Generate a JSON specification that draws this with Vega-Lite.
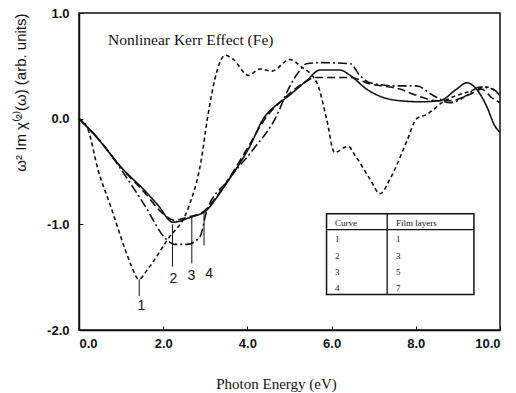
{
  "$schema": "https://vega.github.io/schema/vega-lite/v6.json",
  "width": 421,
  "height": 317,
  "autosize": "none",
  "padding": {"left": 79, "top": 13, "right": 16, "bottom": 63},
  "background": "white",
  "config": {
    "view": {"stroke": "#111", "strokeWidth": 1.5},
    "axis": {"domainColor": "#111", "domainWidth": 1.5, "tickColor": "#111", "grid": false,
             "labelFont": "Liberation Sans", "labelFontWeight": "bold", "labelFontSize": 13, "labelColor": "#111",
             "titleColor": "#111", "titleFontWeight": "normal"}
  },
  "datasets": {
    "curves": [
      {"curve": "1", "x": 0, "y": 0}, {"curve": "1", "x": 0.21, "y": -0.1}, {"curve": "1", "x": 0.45, "y": -0.48}, {"curve": "1", "x": 0.77, "y": -0.85},
      {"curve": "1", "x": 1.09, "y": -1.23}, {"curve": "1", "x": 1.25, "y": -1.4}, {"curve": "1", "x": 1.42, "y": -1.52}, {"curve": "1", "x": 1.64, "y": -1.42},
      {"curve": "1", "x": 2.11, "y": -1.14}, {"curve": "1", "x": 2.59, "y": -0.85}, {"curve": "1", "x": 2.9, "y": -0.4}, {"curve": "1", "x": 3.05, "y": 0.0},
      {"curve": "1", "x": 3.27, "y": 0.44}, {"curve": "1", "x": 3.47, "y": 0.6}, {"curve": "1", "x": 3.67, "y": 0.56}, {"curve": "1", "x": 4.02, "y": 0.41},
      {"curve": "1", "x": 4.3, "y": 0.47}, {"curve": "1", "x": 4.58, "y": 0.45}, {"curve": "1", "x": 5.01, "y": 0.56}, {"curve": "1", "x": 5.25, "y": 0.5},
      {"curve": "1", "x": 5.65, "y": 0.34}, {"curve": "1", "x": 5.88, "y": 0.0}, {"curve": "1", "x": 6.07, "y": -0.32}, {"curve": "1", "x": 6.39, "y": -0.26},
      {"curve": "1", "x": 6.56, "y": -0.35}, {"curve": "1", "x": 6.91, "y": -0.57}, {"curve": "1", "x": 7.15, "y": -0.71}, {"curve": "1", "x": 7.39, "y": -0.57},
      {"curve": "1", "x": 7.78, "y": -0.22}, {"curve": "1", "x": 8.02, "y": 0.0}, {"curve": "1", "x": 8.26, "y": 0.04}, {"curve": "1", "x": 8.65, "y": 0.16},
      {"curve": "1", "x": 9.21, "y": 0.25}, {"curve": "1", "x": 9.68, "y": 0.3}, {"curve": "1", "x": 10.0, "y": 0.22},

      {"curve": "2", "x": 0, "y": 0}, {"curve": "2", "x": 0.45, "y": -0.19}, {"curve": "2", "x": 1.0, "y": -0.46}, {"curve": "2", "x": 1.56, "y": -0.68},
      {"curve": "2", "x": 1.88, "y": -0.82}, {"curve": "2", "x": 2.23, "y": -0.98}, {"curve": "2", "x": 2.67, "y": -0.93}, {"curve": "2", "x": 3.02, "y": -0.87},
      {"curve": "2", "x": 3.3, "y": -0.73}, {"curve": "2", "x": 3.54, "y": -0.59}, {"curve": "2", "x": 4.06, "y": -0.26}, {"curve": "2", "x": 4.38, "y": 0.0},
      {"curve": "2", "x": 4.66, "y": 0.12}, {"curve": "2", "x": 4.93, "y": 0.2}, {"curve": "2", "x": 5.41, "y": 0.36}, {"curve": "2", "x": 5.72, "y": 0.46},
      {"curve": "2", "x": 6.2, "y": 0.46}, {"curve": "2", "x": 6.44, "y": 0.41}, {"curve": "2", "x": 6.83, "y": 0.28}, {"curve": "2", "x": 7.23, "y": 0.2},
      {"curve": "2", "x": 7.62, "y": 0.17}, {"curve": "2", "x": 8.1, "y": 0.16}, {"curve": "2", "x": 8.57, "y": 0.17}, {"curve": "2", "x": 8.97, "y": 0.28},
      {"curve": "2", "x": 9.21, "y": 0.34}, {"curve": "2", "x": 9.44, "y": 0.28}, {"curve": "2", "x": 9.68, "y": 0.12}, {"curve": "2", "x": 9.88, "y": -0.07},
      {"curve": "2", "x": 10.0, "y": -0.13},

      {"curve": "3", "x": 0, "y": 0}, {"curve": "3", "x": 0.5, "y": -0.21}, {"curve": "3", "x": 1.0, "y": -0.48}, {"curve": "3", "x": 1.56, "y": -0.82},
      {"curve": "3", "x": 2.07, "y": -1.14}, {"curve": "3", "x": 2.27, "y": -1.19}, {"curve": "3", "x": 2.56, "y": -1.19}, {"curve": "3", "x": 2.87, "y": -1.12},
      {"curve": "3", "x": 3.03, "y": -0.88}, {"curve": "3", "x": 3.5, "y": -0.6}, {"curve": "3", "x": 4.14, "y": -0.29}, {"curve": "3", "x": 4.66, "y": 0.0},
      {"curve": "3", "x": 5.0, "y": 0.3}, {"curve": "3", "x": 5.25, "y": 0.46}, {"curve": "3", "x": 5.4, "y": 0.52}, {"curve": "3", "x": 5.72, "y": 0.53},
      {"curve": "3", "x": 6.44, "y": 0.52}, {"curve": "3", "x": 6.67, "y": 0.41}, {"curve": "3", "x": 6.91, "y": 0.34}, {"curve": "3", "x": 7.54, "y": 0.31},
      {"curve": "3", "x": 8.02, "y": 0.31}, {"curve": "3", "x": 8.41, "y": 0.22}, {"curve": "3", "x": 8.81, "y": 0.15}, {"curve": "3", "x": 9.21, "y": 0.22},
      {"curve": "3", "x": 9.52, "y": 0.3}, {"curve": "3", "x": 9.83, "y": 0.28}, {"curve": "3", "x": 10.0, "y": 0.22},

      {"curve": "4", "x": 0, "y": 0}, {"curve": "4", "x": 0.5, "y": -0.21}, {"curve": "4", "x": 1.0, "y": -0.46}, {"curve": "4", "x": 1.56, "y": -0.7},
      {"curve": "4", "x": 2.0, "y": -0.9}, {"curve": "4", "x": 2.27, "y": -0.96}, {"curve": "4", "x": 2.6, "y": -0.93}, {"curve": "4", "x": 2.95, "y": -0.88},
      {"curve": "4", "x": 3.3, "y": -0.72}, {"curve": "4", "x": 3.54, "y": -0.58}, {"curve": "4", "x": 4.06, "y": -0.24}, {"curve": "4", "x": 4.42, "y": 0.0},
      {"curve": "4", "x": 4.9, "y": 0.2}, {"curve": "4", "x": 5.3, "y": 0.33}, {"curve": "4", "x": 5.64, "y": 0.39}, {"curve": "4", "x": 6.44, "y": 0.39},
      {"curve": "4", "x": 6.9, "y": 0.33}, {"curve": "4", "x": 7.62, "y": 0.28}, {"curve": "4", "x": 8.02, "y": 0.22}, {"curve": "4", "x": 8.49, "y": 0.17},
      {"curve": "4", "x": 8.81, "y": 0.17}, {"curve": "4", "x": 9.29, "y": 0.23}, {"curve": "4", "x": 9.56, "y": 0.28}, {"curve": "4", "x": 9.8, "y": 0.2},
      {"curve": "4", "x": 10.0, "y": 0.15}
    ],
    "pointers": [
      {"label": "1", "x": 1.43, "y": -1.52, "y2": -1.68, "ty": -1.77, "tx": 1.48},
      {"label": "2", "x": 2.22, "y": -1.0, "y2": -1.4, "ty": -1.52, "tx": 2.24},
      {"label": "3", "x": 2.68, "y": -0.93, "y2": -1.37, "ty": -1.49, "tx": 2.67},
      {"label": "4", "x": 2.97, "y": -0.89, "y2": -1.2, "ty": -1.47, "tx": 3.09}
    ],
    "table": [
      {"x": 6.08, "y": -0.99, "text": "Curve"}, {"x": 7.53, "y": -0.99, "text": "Film layers"},
      {"x": 6.08, "y": -1.14, "text": "1"}, {"x": 7.53, "y": -1.14, "text": "1"},
      {"x": 6.08, "y": -1.3, "text": "2"}, {"x": 7.53, "y": -1.3, "text": "3"},
      {"x": 6.08, "y": -1.45, "text": "3"}, {"x": 7.53, "y": -1.45, "text": "5"},
      {"x": 6.08, "y": -1.6, "text": "4"}, {"x": 7.53, "y": -1.6, "text": "7"}
    ]
  },
  "layer": [
    {
      "mark": {"type": "rule", "color": "#444", "strokeWidth": 1.2},
      "encoding": {"y": {"datum": 0, "type": "quantitative"}}
    },
    {
      "data": {"name": "curves"},
      "mark": {"type": "line", "interpolate": "monotone", "color": "#111", "strokeWidth": 1.6},
      "encoding": {
        "x": {"field": "x", "type": "quantitative", "scale": {"domain": [0, 10], "nice": false},
              "axis": {"values": [0, 2, 4, 6, 8, 10], "format": ".1f", "tickSize": -4, "labelPadding": 11,
                       "title": "Photon Energy (eV)", "titleFont": "Liberation Serif", "titleFontSize": 15, "titlePadding": 26, "titleX": 197}},
        "y": {"field": "y", "type": "quantitative", "scale": {"domain": [-2, 1], "nice": false},
              "axis": {"values": [1, 0, -1, -2], "labelExpr": "replace(format(datum.value, '.1f'), '\u2212', '-')", "tickSize": -4, "labelPadding": 14,
                       "title": "\u03c9\u00b2 Im \u03c7\u207d\u00b2\u207e(\u03c9)  (arb. units)", "titleFont": "Liberation Sans", "titleFontSize": 15,
                       "titleAnchor": "end", "titlePadding": 18}},
        "detail": {"field": "curve"},
        "strokeDash": {"field": "curve", "type": "nominal", "legend": null,
                       "scale": {"domain": ["1", "2", "3", "4"], "range": [[4, 3], [1, 0], [9, 3, 2, 3], [8, 4]]}},
        "strokeWidth": {"field": "curve", "type": "nominal", "legend": null,
                        "scale": {"domain": ["1", "2", "3", "4"], "range": [1.6, 2.2, 1.6, 1.6]}}
      }
    },
    {
      "data": {"name": "pointers"},
      "mark": {"type": "rule", "color": "#111", "strokeWidth": 1},
      "encoding": {
        "x": {"field": "x", "type": "quantitative"},
        "y": {"field": "y", "type": "quantitative"},
        "y2": {"field": "y2"}
      }
    },
    {
      "data": {"name": "pointers"},
      "mark": {"type": "text", "font": "Liberation Sans", "fontSize": 14, "color": "#111"},
      "encoding": {
        "x": {"field": "tx", "type": "quantitative"},
        "y": {"field": "ty", "type": "quantitative"},
        "text": {"field": "label"}
      }
    },
    {
      "data": {"values": [{"x": 5.88, "x2": 9.38, "y": -0.9, "y2": -1.665}]},
      "mark": {"type": "rect", "fill": "white", "stroke": "#111", "strokeWidth": 1.5},
      "encoding": {
        "x": {"field": "x", "type": "quantitative"}, "x2": {"field": "x2"},
        "y": {"field": "y", "type": "quantitative"}, "y2": {"field": "y2"}
      }
    },
    {
      "data": {"values": [{"x": 5.88, "x2": 9.38, "y": -1.05, "y2": -1.05}, {"x": 7.32, "x2": 7.32, "y": -0.9, "y2": -1.665}]},
      "mark": {"type": "rule", "color": "#111", "strokeWidth": 1.3},
      "encoding": {
        "x": {"field": "x", "type": "quantitative"}, "x2": {"field": "x2"},
        "y": {"field": "y", "type": "quantitative"}, "y2": {"field": "y2"}
      }
    },
    {
      "data": {"name": "table"},
      "mark": {"type": "text", "font": "Liberation Serif", "fontSize": 9, "align": "left", "color": "#111"},
      "encoding": {
        "x": {"field": "x", "type": "quantitative"},
        "y": {"field": "y", "type": "quantitative"},
        "text": {"field": "text"}
      }
    },
    {
      "data": {"values": [{"x": 0.69, "y": 0.74, "text": "Nonlinear Kerr Effect (Fe)"}]},
      "mark": {"type": "text", "font": "Liberation Serif", "fontSize": 15.5, "align": "left", "color": "#111"},
      "encoding": {
        "x": {"field": "x", "type": "quantitative"},
        "y": {"field": "y", "type": "quantitative"},
        "text": {"field": "text"}
      }
    }
  ]
}
